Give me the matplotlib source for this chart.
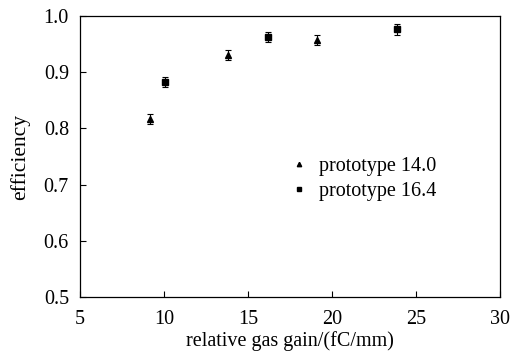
import matplotlib
matplotlib.use("Agg")
import matplotlib.pyplot as plt

plt.rcParams['font.family'] = ['Liberation Serif', 'DejaVu Serif']

gain_140 = [9.17, 13.83, 19.10]
eff_140 = [0.817, 0.930, 0.958]
err_140 = [0.009, 0.009, 0.009]

gain_164 = [10.08, 16.17, 23.85]
eff_164 = [0.883, 0.962, 0.976]
err_164 = [0.009, 0.009, 0.009]

fig = plt.figure(figsize=(5.18, 3.56), dpi=100)
ax = fig.add_axes([80/518, 1-297/356, 420/518, 281/356])

ax.errorbar(gain_140, eff_140, yerr=err_140, fmt='^', color='black', ms=4.5,
            capsize=2.5, elinewidth=0.8, capthick=0.8, label='prototype 14.0')
ax.errorbar(gain_164, eff_164, yerr=err_164, fmt='s', color='black', ms=4,
            capsize=2.5, elinewidth=0.8, capthick=0.8, label='prototype 16.4')

ax.set_xlim(5, 30)
ax.set_ylim(0.5, 1.0)
ax.set_xticks([5, 10, 15, 20, 25, 30])
ax.set_yticks([0.5, 0.6, 0.7, 0.8, 0.9, 1.0])
ax.set_yticklabels(['0.5', '0.6', '0.7', '0.8', '0.9', '1.0'])
ax.tick_params(direction='in', length=4, width=0.8, labelsize=14.5,
               top=False, right=False)
ax.tick_params(axis='y', pad=8)
ax.tick_params(axis='x', pad=9)
for s in ax.spines.values():
    s.set_linewidth(0.9)

ax.set_xlabel('relative gas gain/(fC/mm)', fontsize=14.5, labelpad=2)
ax.set_ylabel('efficiency', fontsize=15.5, labelpad=10)

handles, labels = ax.get_legend_handles_labels()
handles = [h[0] for h in handles]
ax.legend(handles, labels, loc='upper left', bbox_to_anchor=(0.455, 0.563),
          frameon=False, fontsize=14.5, handletextpad=0.5, handlelength=1.0,
          labelspacing=0.27, markerscale=0.7)

fig.savefig('out.png', dpi=100)
